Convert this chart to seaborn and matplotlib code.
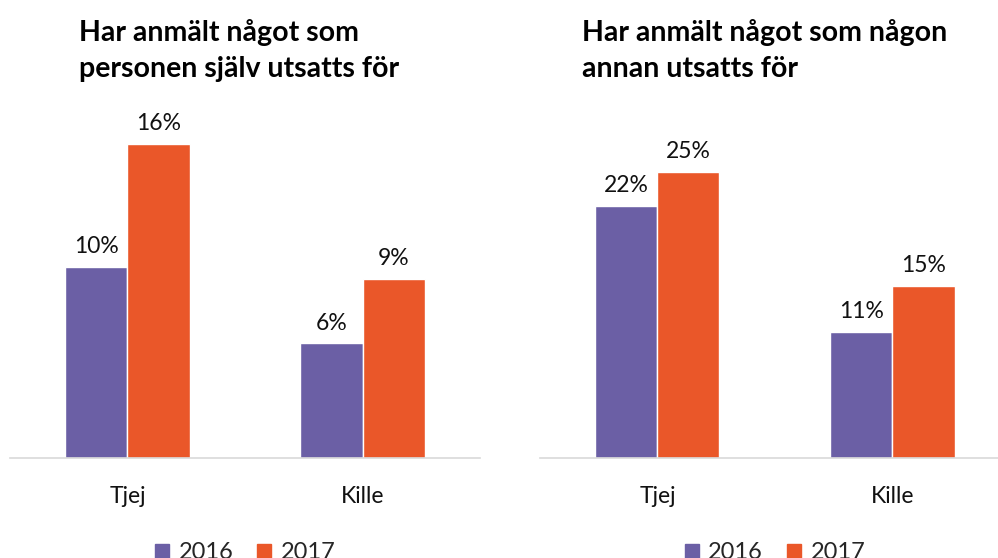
import pandas as pd
import matplotlib.pyplot as plt
import seaborn as sns
from matplotlib.patches import Patch

# data
categories = ["Tjej", "Kille"]
years = ["2016", "2017"]
left_2016 = [9.9, 5.95]
left_2017 = [16.3, 9.3]
left_labels_2016 = ["10%", "6%"]
left_labels_2017 = ["16%", "9%"]
right_2016 = [22.0, 11.0]
right_2017 = [25.0, 15.0]
right_labels_2016 = ["22%", "11%"]
right_labels_2017 = ["25%", "15%"]
titles = ["Har anmält något som\npersonen själv utsatts för",
          "Har anmält något som någon\nannan utsatts för"]

colors = {"2016": "#6B5FA5", "2017": "#EA5729"}


def make_df(v16, v17):
    return pd.DataFrame({
        "kategori": categories * 2,
        "år": [years[0]] * 2 + [years[1]] * 2,
        "andel": v16 + v17,
    })


sns.set_theme(style="white")
plt.rcParams['font.family'] = ['Lato', 'DejaVu Sans']

fig = plt.figure(figsize=(9.98, 5.58), dpi=100)
ax1 = fig.add_axes([0.010, 0.179, 0.471, 0.645])
ax2 = fig.add_axes([0.541, 0.179, 0.471, 0.645])

panels = [
    (ax1, make_df(left_2016, left_2017), [left_labels_2016, left_labels_2017], 18.65, titles[0], 0.079),
    (ax2, make_df(right_2016, right_2017), [right_labels_2016, right_labels_2017], 31.4, titles[1], 0.583),
]

for ax, df, labels, ymax, title, tx in panels:
    sns.barplot(data=df, x="kategori", y="andel", hue="år", palette=colors,
                width=0.528, ax=ax, legend=False, saturation=1)
    for cont, lab in zip(ax.containers, labels):
        ax.bar_label(cont, labels=lab, padding=7, fontsize=16.5, color="#111111")
    ax.set_ylim(0, ymax)
    ax.set_xlim(-0.5, 1.5)
    ax.set_xlabel("")
    ax.set_ylabel("")
    ax.set_yticks([])
    for s in ["top", "left", "right"]:
        ax.spines[s].set_visible(False)
    ax.spines["bottom"].set_color("#D9D9D9")
    ax.spines["bottom"].set_linewidth(1.2)
    ax.tick_params(axis="x", length=0, pad=20, labelsize=16.5, labelcolor="#111111")
    fig.text(tx, 0.966, title, ha="left", va="top", fontsize=20.5, fontweight="bold",
             linespacing=1.5, color="#000000")
    handles = [Patch(color=colors[y]) for y in years]
    ax.legend(handles, years, loc="upper center", bbox_to_anchor=(0.5, -0.175),
              ncol=2, frameon=False, fontsize=17, handlelength=0.6, handleheight=0.6,
              handletextpad=0.4, columnspacing=1.0)

fig.savefig("out.png", dpi=100)
